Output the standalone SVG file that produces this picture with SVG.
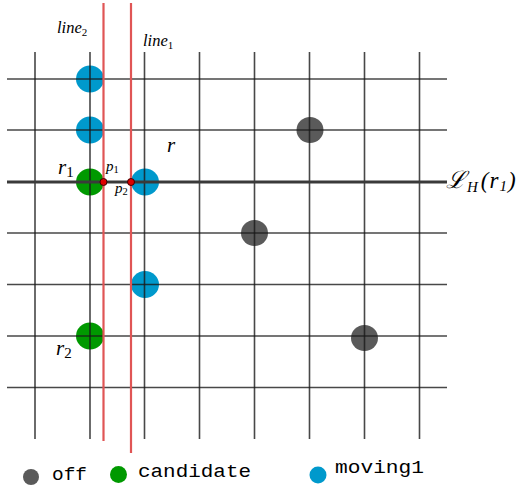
<svg xmlns="http://www.w3.org/2000/svg" width="516" height="489" viewBox="0 0 516 489">
<style>
.grid{stroke:#1a1a1a;stroke-opacity:0.8;stroke-width:1.6;fill:none}
.lh{stroke:#3a3a3a;stroke-width:3;fill:none}
.red{stroke:#e05555;stroke-width:2.2;fill:none}
.off{fill:#5a5a5a}
.cand{fill:#009900}
.mov{fill:#0099cc}
.pt{fill:#dd0000;stroke:#400000;stroke-width:1}
.m{font-family:"Liberation Serif","DejaVu Serif",serif;font-style:italic;fill:#000}
.tt{font-family:"Liberation Mono","DejaVu Sans Mono",monospace;font-size:18px;fill:#000}
</style>
<rect width="516" height="489" fill="#fff"/>
<g id="nodes">
<g id="mov-a"><ellipse class="mov" cx="90" cy="79" rx="14" ry="13.5"/></g>
<g id="mov-b"><ellipse class="mov" cx="90" cy="130" rx="14" ry="13.5"/></g>
<g id="mov-c"><ellipse class="mov" cx="145" cy="182" rx="14" ry="13.5"/></g>
<g id="mov-d"><ellipse class="mov" cx="145" cy="284.5" rx="14" ry="13.5"/></g>
<g id="r1"><ellipse class="cand" cx="90" cy="182" rx="14" ry="13.5"/></g>
<g id="r2"><ellipse class="cand" cx="90" cy="336" rx="14" ry="13.5"/></g>
<g id="off-a"><ellipse class="off" cx="310" cy="130" rx="13.5" ry="13"/></g>
<g id="off-b"><ellipse class="off" cx="254.5" cy="233" rx="13.5" ry="13"/></g>
<g id="off-c"><ellipse class="off" cx="364.5" cy="338" rx="13.5" ry="13"/></g>
</g>
<g id="grid">
<path class="grid" d="M35,52V439M90,52V439M144.5,52V439M199.5,52V439M254.5,52V439M309.5,52V439M364.5,52V439M419.5,52V439"/>
<path class="grid" d="M7,79H447M7,130H447M7,233H447M7,284.5H447M7,336H447M7,387.5H447"/>
<path class="lh" d="M7,182H447"/>
</g>
<g id="connectors">
<path class="red" d="M103.5,3V441"/>
<path class="red" d="M131,3V453"/>
</g>
<g id="p1"><circle class="pt" cx="103.5" cy="182" r="3.5"/></g>
<g id="p2"><circle class="pt" cx="131" cy="182" r="3.5"/></g>
<g id="labels">
<text class="m" x="57" y="33" font-size="16.5">line<tspan font-style="normal" font-size="11" dy="3">2</tspan></text>
<text class="m" x="143" y="46" font-size="16.5">line<tspan font-style="normal" font-size="11" dy="3">1</tspan></text>
<text class="m" x="167" y="152" font-size="21">r</text>
<text class="m" x="58" y="174" font-size="21">r<tspan font-style="normal" font-size="15" dy="3">1</tspan></text>
<text class="m" x="106" y="171" font-size="15">p<tspan font-style="normal" font-size="10.5" dy="2">1</tspan></text>
<text class="m" x="115" y="193" font-size="15">p<tspan font-style="normal" font-size="10.5" dy="2">2</tspan></text>
<text class="m" x="56" y="355" font-size="21">r<tspan font-style="normal" font-size="15" dy="3">2</tspan></text>
<text x="446" y="188" font-size="24" font-family="'DejaVu Serif','Liberation Serif',serif" font-style="italic">ℒ<tspan class="m" font-size="15" dy="4" dx="1">H</tspan><tspan class="m" font-style="normal" font-size="23" dy="-4" dx="3">(</tspan><tspan class="m" font-size="23" dx="1">r</tspan><tspan class="m" font-style="normal" font-size="15" dy="3" dx="1">1</tspan><tspan class="m" font-style="normal" font-size="23" dy="-3" dx="1">)</tspan></text>
</g>
<g id="legend">
<circle class="off" cx="31" cy="477" r="8"/>
<text class="tt" x="52" y="480" textLength="35" lengthAdjust="spacingAndGlyphs">off</text>
<circle class="cand" cx="118.5" cy="474.5" r="8.5"/>
<text class="tt" x="138" y="477" textLength="113" lengthAdjust="spacingAndGlyphs">candidate</text>
<circle class="mov" cx="318" cy="475" r="8.5"/>
<text class="tt" x="335" y="473" textLength="89" lengthAdjust="spacingAndGlyphs">moving1</text>
</g>
</svg>
